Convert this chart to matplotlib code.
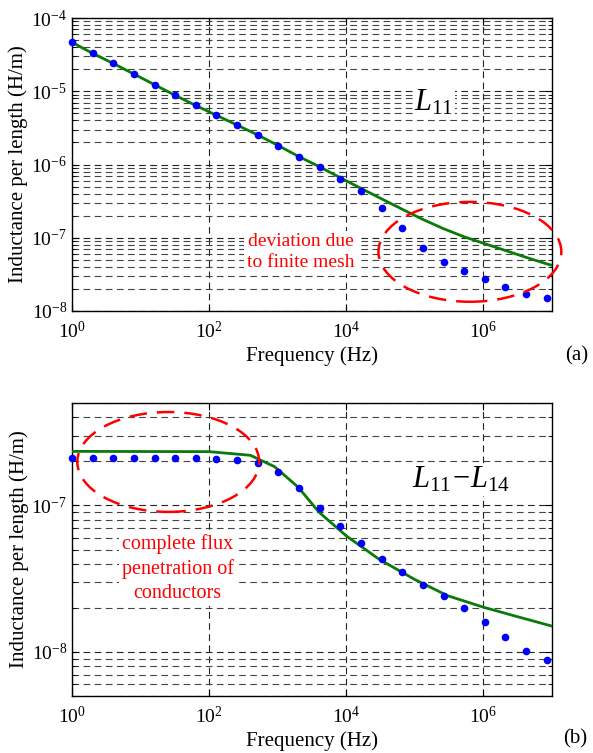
import matplotlib

matplotlib.use("Agg")
import matplotlib.pyplot as plt
import numpy as np
from matplotlib.patches import Ellipse
from matplotlib.ticker import LogLocator, NullFormatter, NullLocator

# measured frequencies: 2^k Hz, k = 0..23
freq_pts = [2.0 ** k for k in range(24)]

# (a) L11 -- measured points and model curve
l11_pts = [4.66e-5, 3.3e-5, 2.4e-5, 1.72e-5, 1.23e-5, 8.8e-6, 6.4e-6, 4.7e-6,
           3.46e-6, 2.53e-6, 1.81e-6, 1.28e-6, 9.2e-7, 6.3e-7, 4.35e-7, 2.55e-7,
           1.35e-7, 7.2e-8, 4.7e-8, 3.55e-8, 2.73e-8, 2.1e-8, 1.69e-8, 1.52e-8]
l11_line_f = [2.0 ** k for k in range(24)] + [1e7]
l11_line = [4.66e-5, 3.3e-5, 2.4e-5, 1.72e-5, 1.23e-5, 8.8e-6, 6.4e-6, 4.7e-6,
            3.46e-6, 2.53e-6, 1.81e-6, 1.28e-6, 9.3e-7, 6.6e-7, 4.73e-7, 3.4e-7,
            2.45e-7, 1.78e-7, 1.33e-7, 1.03e-7, 8.3e-8, 6.7e-8, 5.4e-8, 4.4e-8, 4.2e-8]

# (b) L11-L14 -- measured points and model curve
l1114_pts = [2.1e-7, 2.1e-7, 2.1e-7, 2.1e-7, 2.1e-7, 2.1e-7, 2.1e-7, 2.07e-7,
             2.04e-7, 1.94e-7, 1.69e-7, 1.31e-7, 9.64e-8, 7.22e-8, 5.56e-8, 4.34e-8,
             3.5e-8, 2.85e-8, 2.39e-8, 1.99e-8, 1.61e-8, 1.26e-8, 1.01e-8, 8.85e-9]
l1114_line_f = [1.0, 100.0, 400.0, 900.0, 2000.0, 4000.0, 1e4, 3e4, 1e5, 3e5, 1e6, 3e6, 1e7]
l1114_line = [2.34e-7, 2.33e-7, 2.2e-7, 1.84e-7, 1.33e-7, 9.0e-8, 6.2e-8, 4.3e-8,
              3.12e-8, 2.42e-8, 2.02e-8, 1.75e-8, 1.5e-8]

x_major = [1e0, 1e2, 1e4, 1e6]
x_labels = [r"$10^{0}$", r"$10^{2}$", r"$10^{4}$", r"$10^{6}$"]

plt.rcParams["font.family"] = ["Liberation Serif", "DejaVu Serif"]
plt.rcParams["mathtext.fontset"] = "custom"
plt.rcParams["mathtext.rm"] = "Liberation Serif"
plt.rcParams["mathtext.it"] = "Liberation Serif:italic"

RED = "#ff0000"
GREEN = "#0a7a0a"
BLUE = "#0000ff"


def _style_axes(ax, ylim, ymajor):
    ax.set_xscale("log")
    ax.set_yscale("log")
    ax.set_xlim(1, 1e7)
    ax.set_ylim(*ylim)
    ax.set_xticks(x_major)
    ax.set_xticklabels(x_labels)
    ax.xaxis.set_minor_locator(NullLocator())
    ax.set_yticks(ymajor)
    ax.set_yticklabels([r"$10^{%d}$" % int(round(np.log10(v))) for v in ymajor])
    ax.yaxis.set_minor_locator(LogLocator(base=10, subs=np.arange(2, 10)))
    ax.yaxis.set_minor_formatter(NullFormatter())
    ax.tick_params(which="both", direction="in", top=True, right=True, labelsize=14)
    ax.tick_params(axis="x", which="major", pad=7)
    ax.tick_params(which="major", length=5, width=0.8)
    ax.tick_params(which="minor", length=3, width=0.6)
    ax.grid(True, which="major", axis="both", color="#222222", linestyle=(0, (6, 4)), linewidth=0.8)
    ax.grid(True, which="minor", axis="y", color="#444444", linestyle=(0, (6, 4)), linewidth=0.8)
    for sp in ax.spines.values():
        sp.set_linewidth(1.0)
    ax.set_xlabel("Frequency (Hz)", fontsize=15, labelpad=3)
    ax.set_ylabel("Inductance per length (H/m)", fontsize=15, labelpad=2)


fig = plt.figure(figsize=(5.93, 7.53), dpi=100)
ax1 = fig.add_axes([0.1214, 0.587, 0.8094, 0.389])
ax2 = fig.add_axes([0.1214, 0.0757, 0.8094, 0.389])

_style_axes(ax1, (1e-8, 1e-4), [1e-8, 1e-7, 1e-6, 1e-5, 1e-4])
ax1.plot(l11_line_f, l11_line, color=GREEN, linewidth=2.0, zorder=3)
ax1.plot(freq_pts, l11_pts, "o", color=BLUE, markersize=5.5, markeredgewidth=0, zorder=4, clip_on=False)
ax1.add_patch(Ellipse((0.829, 0.202), 0.381, 0.341, transform=ax1.transAxes, fill=False,
                      edgecolor=RED, linewidth=1.8, linestyle=(0, (7, 4)), clip_on=False, zorder=5))
ax1.text(0.477, 0.20, "deviation due\nto finite mesh", transform=ax1.transAxes, ha="center", va="center",
         color=RED, fontsize=14, linespacing=1.3, zorder=5,
         bbox=dict(facecolor="white", edgecolor="none", pad=2))
ax1.text(0.754, 0.71, r"$L_{11}$", transform=ax1.transAxes, ha="center", va="center", fontsize=22,
         zorder=5, bbox=dict(facecolor="white", edgecolor="none", pad=1))
fig.text(0.973, 0.528, "(a)", ha="center", va="center", fontsize=15)

_style_axes(ax2, (5e-9, 5e-7), [1e-8, 1e-7])
ax2.plot(l1114_line_f, l1114_line, color=GREEN, linewidth=2.0, zorder=3)
ax2.plot(freq_pts, l1114_pts, "o", color=BLUE, markersize=5.5, markeredgewidth=0, zorder=4, clip_on=False)
ax2.add_patch(Ellipse((0.2006, 0.799), 0.379, 0.341, transform=ax2.transAxes, fill=False,
                      edgecolor=RED, linewidth=1.8, linestyle=(0, (7, 4)), clip_on=False, zorder=5))
ax2.text(0.22, 0.435, "complete flux\npenetration of\nconductors", transform=ax2.transAxes, ha="center",
         va="center", color=RED, fontsize=14.5, linespacing=1.35, zorder=5,
         bbox=dict(facecolor="white", edgecolor="none", pad=2))
ax2.text(0.81, 0.737, r"$L_{11}\!-\!L_{14}$", transform=ax2.transAxes, ha="center", va="center", fontsize=22,
         zorder=5, bbox=dict(facecolor="white", edgecolor="none", pad=1))
fig.text(0.97, 0.006, "(b)", ha="center", va="bottom", fontsize=15)

fig.savefig("out.png", dpi=100)
plt.close(fig)
